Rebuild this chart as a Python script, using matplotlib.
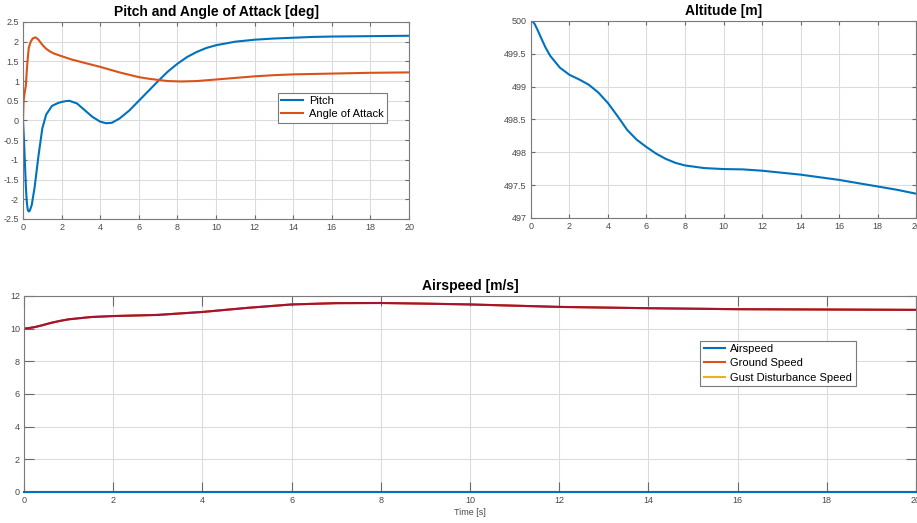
import numpy as np
import matplotlib
matplotlib.use('Agg')
import matplotlib.pyplot as plt
from matplotlib.ticker import FormatStrFormatter

plt.rcParams['font.family'] = ['Liberation Sans', 'DejaVu Sans']
plt.rcParams['axes.unicode_minus'] = False

# Pitch and angle of attack [deg]
t_pitch = [0, 0.05, 0.1, 0.15, 0.2, 0.25, 0.3, 0.35, 0.45, 0.6, 0.8, 1.0, 1.2, 1.5, 1.8, 2.0, 2.2, 2.4,
           2.8, 3.2, 3.6, 4.0, 4.3, 4.6, 5.0, 5.5, 6.0, 6.5, 7.0, 7.5, 8.0, 8.5, 9.0, 9.5, 10, 11, 12,
           13, 14, 15, 16, 18, 20]
pitch = [0, -0.5, -1.1, -1.7, -2.1, -2.28, -2.31, -2.29, -2.15, -1.7, -0.9, -0.2, 0.15, 0.37, 0.44,
         0.47, 0.49, 0.5, 0.43, 0.26, 0.09, -0.03, -0.07, -0.06, 0.05, 0.25, 0.5, 0.75, 1.0, 1.24,
         1.44, 1.61, 1.74, 1.84, 1.91, 2.0, 2.05, 2.08, 2.1, 2.12, 2.13, 2.14, 2.15]
t_aoa = [0, 0.03, 0.08, 0.15, 0.2, 0.25, 0.3, 0.4, 0.5, 0.65, 0.8, 1.0, 1.2, 1.4, 1.6, 1.95, 2.5,
         3.2, 4.0, 4.5, 5.0, 5.5, 6.0, 6.5, 7.0, 7.5, 8.2, 9.0, 10, 11, 12, 13, 14, 16, 18, 20]
aoa = [0, 0.5, 0.68, 0.9, 1.3, 1.6, 1.85, 2.0, 2.08, 2.11, 2.05, 1.92, 1.82, 1.75, 1.7, 1.64, 1.55,
       1.46, 1.36, 1.29, 1.22, 1.16, 1.1, 1.06, 1.03, 1.0, 0.99, 1.0, 1.04, 1.08, 1.12, 1.15, 1.17,
       1.19, 1.21, 1.22]

# Altitude [m]
t_alt = [0, 0.1, 0.2, 0.35, 0.5, 0.75, 1.0, 1.5, 2.0, 2.5, 3.0, 3.5, 4.0, 4.5, 5.0, 5.5, 6.0, 6.5,
         7.0, 7.5, 8.0, 9.0, 10, 11, 12, 13, 14, 15, 16, 17, 18, 19, 20]
alt = [500, 499.99, 499.95, 499.86, 499.76, 499.6, 499.47, 499.29, 499.18, 499.11, 499.03, 498.91,
       498.75, 498.55, 498.34, 498.19, 498.08, 497.98, 497.9, 497.84, 497.8, 497.76, 497.745,
       497.74, 497.72, 497.69, 497.66, 497.62, 497.58, 497.53, 497.48, 497.43, 497.37]

# Airspeed [m/s]
t_spd = [0, 0.1, 0.25, 0.4, 0.6, 0.8, 1.0, 1.5, 2.0, 3.0, 4.0, 5.0, 6.0, 7.0, 8.0, 9.0, 10, 12, 14,
         16, 18, 20]
ground_speed = [10.0, 10.03, 10.1, 10.2, 10.35, 10.47, 10.57, 10.71, 10.77, 10.84, 11.02, 11.27,
                11.48, 11.56, 11.57, 11.53, 11.48, 11.33, 11.25, 11.19, 11.17, 11.15]
airspeed = [0] * len(t_spd)
gust_speed = [0] * len(t_spd)

blue = '#0072BD'
orange = '#D95319'
yellow = '#EDB120'
darkred = '#A2142F'

fig = plt.figure(figsize=(9.17, 5.23), dpi=100)
ax1 = fig.add_axes([0.0251, 0.5813, 0.421, 0.3767])
ax2 = fig.add_axes([0.579, 0.5832, 0.42, 0.3767])
ax3 = fig.add_axes([0.0262, 0.0593, 0.9727, 0.3748])


def matlab_style(ax, ticklen):
    ax.grid(True, color='#dcdcdc', linewidth=0.8)
    ax.set_axisbelow(True)
    for s in ax.spines.values():
        s.set_color('#7a7a7a')
        s.set_linewidth(0.8)
    ax.tick_params(direction='in', length=ticklen, width=0.8, color='#6a6a6a',
                   labelsize=6.5, labelcolor='#4a4a4a', top=True, right=True, pad=3)
    ax.yaxis.set_major_formatter(FormatStrFormatter('%g'))
    ax.xaxis.set_major_formatter(FormatStrFormatter('%g'))


ax1.plot(t_pitch, pitch, color=blue, lw=1.5, label='Pitch')
ax1.plot(t_aoa, aoa, color=orange, lw=1.5, label='Angle of Attack')
ax1.set_xlim(0, 20)
ax1.set_ylim(-2.5, 2.5)
ax1.set_xticks(np.arange(0, 21, 2))
ax1.set_yticks(np.arange(-2.5, 2.6, 0.5))
matlab_style(ax1, 3)
ax1.set_title('Pitch and Angle of Attack [deg]', fontsize=10, fontweight='bold', pad=4)
leg1 = ax1.legend(loc='upper left', bbox_to_anchor=(0.645, 0.67), fontsize=8, fancybox=False,
                  framealpha=1, edgecolor='#7a7a7a', borderpad=0.3, handlelength=2.0,
                  labelspacing=0.3, handletextpad=0.5)
leg1.get_frame().set_linewidth(0.8)

ax2.plot(t_alt, alt, color=blue, lw=1.5)
ax2.set_xlim(0, 20)
ax2.set_ylim(497, 500)
ax2.set_xticks(np.arange(0, 21, 2))
ax2.set_yticks(np.arange(497, 500.1, 0.5))
matlab_style(ax2, 3)
ax2.set_title('Altitude [m]', fontsize=10, fontweight='bold', pad=4)

ax3.plot(t_spd, ground_speed, color=orange, lw=1.5, label='Ground Speed')
ax3.plot(t_spd, ground_speed, color=darkred, lw=1.5)
ax3.plot(t_spd, gust_speed, color=yellow, lw=1.5, label='Gust Disturbance Speed')
ax3.plot(t_spd, airspeed, color=blue, lw=1.5, label='Airspeed', clip_on=False, zorder=5)
ax3.set_xlim(0, 20)
ax3.set_ylim(0, 12)
ax3.set_xticks(np.arange(0, 21, 2))
ax3.set_yticks(np.arange(0, 13, 2))
matlab_style(ax3, 7)
ax3.set_title('Airspeed [m/s]', fontsize=10, fontweight='bold', pad=4)
ax3.set_xlabel('Time [s]', fontsize=6.5, color='#4a4a4a', labelpad=2)
h, l = ax3.get_legend_handles_labels()
order = [2, 0, 1]
leg3 = ax3.legend([h[i] for i in order], [l[i] for i in order], loc='upper left',
                  bbox_to_anchor=(0.752, 0.80), fontsize=8, fancybox=False, framealpha=1,
                  edgecolor='#7a7a7a', borderpad=0.3, handlelength=1.9, labelspacing=0.38,
                  handletextpad=0.5)
leg3.get_frame().set_linewidth(0.8)

fig.savefig('out.png', dpi=100)
